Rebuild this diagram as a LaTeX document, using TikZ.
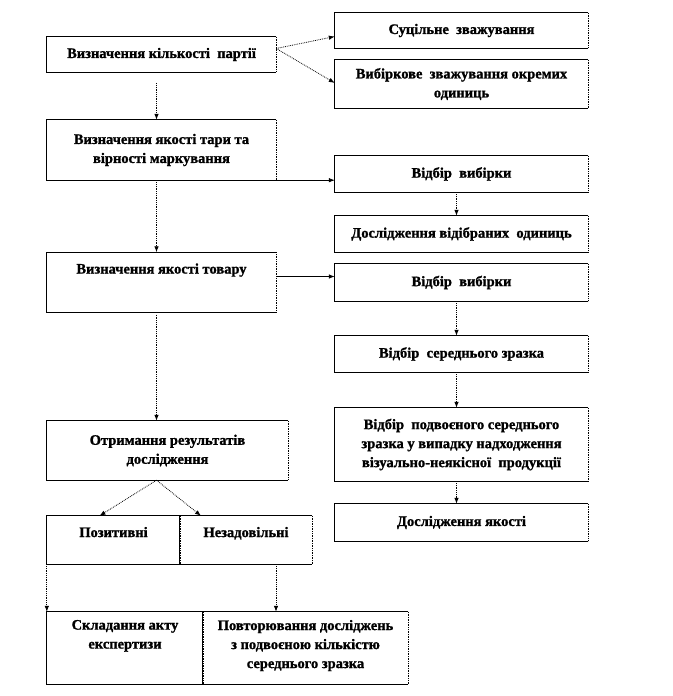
\documentclass[tikz,border=0pt]{standalone}
\usepackage{fontspec}
\setmainfont{Liberation Serif}[BoldFeatures={FakeBold=1.2}]
\usetikzlibrary{arrows,arrows.meta,positioning,calc}
\tikzset{>={Latex[length=6pt,width=4.5pt]}}
\tikzset{
  box/.style={rectangle, inner sep=0pt, align=center,
    font=\bfseries\fontsize{14.5}{19}\selectfont},
  txt/.style={inner sep=0pt, align=center,
    font=\bfseries\fontsize{14.5}{19}\selectfont},
  dotarrow/.style={->, densely dotted, line width=0.8pt},
  fullarrow/.style={->, line width=0.7pt}
}
\begin{document}
\begin{tikzpicture}[x=1pt,y=-1pt]
  \useasboundingbox (0,0) rectangle (672,696);
  % left column
  \node[box, minimum width=229, minimum height=35] (kilkist) at (161.5,54.5) {Визначення кількості\ \ партії};
  \node[box, minimum width=229, minimum height=60] (tara) at (161.5,150) {Визначення якості\ тари та\\вірності маркування};
  \node[box, minimum width=229, minimum height=60] (tovar) at (161.5,282.5) {};
  \node[txt, below=11pt of tovar.north] {Визначення якості\ товару};
  \node[box, minimum width=241, minimum height=59] (rezult) at (167.5,450.5) {Отримання результатів\\дослідження};
  \node[box, minimum width=133, minimum height=48] (pozyt) at (113.5,540) {};
  \node[txt, below=11pt of pozyt.north] {Позитивні};
  \node[box, minimum width=132, minimum height=48] (nezad) at (246,540) {};
  \node[txt, below=11pt of nezad.north] {Незадовільні};
  \node[box, minimum width=156, minimum height=72] (akt) at (125,648) {};
  \node[txt, below=8pt of akt.north] {Складання акту\\експертизи};
  \node[box, minimum width=205, minimum height=72] (povtor) at (305.5,648) {};
  \node[txt, below=8pt of povtor.north] {Повторювання досліджень\\з подвоєною кількістю\\середнього зразка};
  % right column
  \node[box, minimum width=253, minimum height=35] (sutsil) at (461.5,30.5) {Суцільне\ \ зважування};
  \node[box, minimum width=253, minimum height=48] (vybirk) at (461.5,84) {Вибіркове\ \ зважування окремих\\одиниць};
  \node[box, minimum width=253, minimum height=36] (vidbir) at (461.5,174) {Відбір\ \ вибірки};
  \node[box, minimum width=253, minimum height=36] (odyn) at (461.5,234) {Дослідження відібраних\ \ одиниць};
  \node[box, minimum width=253, minimum height=37] (vidbirb) at (461.5,282.5) {Відбір\ \ вибірки};
  \node[box, minimum width=253, minimum height=36] (seredn) at (461.5,354) {Відбір\ \ середнього зразка};
  \node[box, minimum width=253, minimum height=73] (podvij) at (461.5,444.5) {Відбір\ \ подвоєного середнього\\зразка\ у випадку надходження\\візуально-неякісної\ \ продукції};
  \node[box, minimum width=253, minimum height=37] (yakist) at (461.5,522.5) {Дослідження якості};
  % frames, right edge dotted
  \foreach \n in {kilkist,tara,tovar,rezult,pozyt,nezad,akt,povtor,sutsil,vybirk,vidbir,odyn,vidbirb,seredn,podvij,yakist} {
    \draw[line width=0.7pt] (\n.north east) -- (\n.north west) -- (\n.south west) -- (\n.south east);
    \draw[densely dotted, line width=0.7pt] (\n.north east) -- (\n.south east);
  }
  % connectors
  \draw[dotarrow] ([yshift=6pt]kilkist.east) -- ([yshift=-6pt]sutsil.west);
  \draw[dotarrow] ([yshift=6pt]kilkist.east) -- ([yshift=1pt]vybirk.west);
  \draw[dotarrow, shorten <=11pt] ([xshift=-5pt]kilkist.south) -- ([xshift=-5pt]tara.north);
  \draw[dotarrow, shorten <=2pt] ([xshift=-5pt]tara.south) -- ([xshift=-5pt]tovar.north);
  \draw[fullarrow] (tara.south east) -- (tara.south east -| vidbir.west);
  \draw[fullarrow] ([yshift=6pt]vidbirb.west -| tovar.east) -- ([yshift=6pt]vidbirb.west);
  \draw[dotarrow, shorten <=2pt] ([xshift=-5pt]tovar.south) -- ([xshift=-5pt]tovar.south |- rezult.north);
  \draw[dotarrow] ([xshift=-5pt]vidbir.south) -- ([xshift=-5pt]odyn.north);
  \draw[dotarrow] ([xshift=-5pt]vidbirb.south) -- ([xshift=-5pt]seredn.north);
  \draw[dotarrow] ([xshift=-5pt]seredn.south) -- ([xshift=-5pt]podvij.north);
  \draw[dotarrow] ([xshift=-5pt]podvij.south) -- ([xshift=-5pt]yakist.north);
  \draw[dotarrow] ([xshift=-11pt]rezult.south) -- ([xshift=-14pt]pozyt.north);
  \draw[dotarrow] ([xshift=-11pt]rezult.south) -- ([xshift=-45pt]nezad.north);
  \draw[dotarrow] (pozyt.south west) -- (akt.north west);
  \draw[dotarrow] ([xshift=30pt]nezad.south) -- ([xshift=30pt]nezad.south |- povtor.north);
\end{tikzpicture}
\end{document}
